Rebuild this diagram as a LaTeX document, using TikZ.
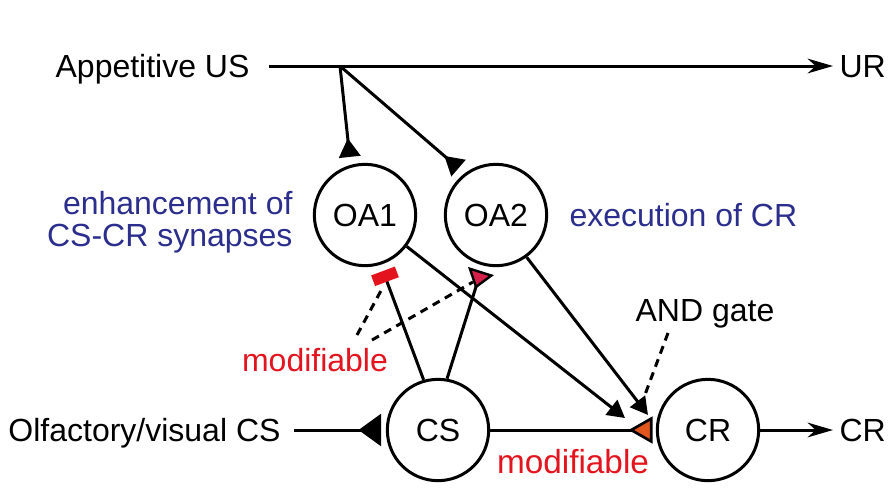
\documentclass[tikz,border=0pt]{standalone}
\usepackage{fontspec}
\setmainfont{Liberation Sans}
\usetikzlibrary{arrows.meta,calc}
\definecolor{cblue}{HTML}{2B2E8C}
\definecolor{cred}{HTML}{E3141E}
\definecolor{crim}{HTML}{D42048}
\definecolor{corange}{HTML}{E0561C}
\begin{document}
\begin{tikzpicture}[x=0.75pt,y=-0.75pt,line width=2.25pt,
  font=\fontsize{24}{28}\selectfont,
  neuron/.style={circle,draw,line width=2.25pt,minimum size=76pt,inner sep=0pt},
  lbl/.style={inner sep=0pt,text height=17pt,text depth=0pt},
  dashln/.style={dash pattern=on 6pt off 4.5pt,line width=2.25pt},
  syn/.style={-{Triangle[reversed,length=14pt,width=16pt]}},
  exc/.style={-{Triangle[length=13pt,width=14pt]}},
  outarr/.style={-{Stealth[length=19pt,width=11pt,inset=6pt]}}]
\useasboundingbox (0,0) rectangle (890,487);

% neurons
\node[neuron] (OA1) at (365,215) {OA1};
\node[neuron] (OA2) at (496,215) {OA2};
\node[neuron] (CS) at (438,430) {CS};
\node[neuron] (CR) at (708,430) {CR};

% labels
\node[lbl,anchor=east] (us) at (251,66) {Appetitive US};
\node[lbl,anchor=west] (ur) at (838,66) {UR};
\node[lbl,anchor=east] (csin) at (282,430) {Olfactory/visual CS};
\node[lbl,anchor=west] (crout) at (838,430) {CR};
\node[inner sep=0pt,text=cblue,align=right,anchor=east,
  font=\fontsize{24}{24}\selectfont] (enh) at (294,222) {enhancement of\\CS-CR synapses};
\node[lbl,text=cblue,anchor=west] (exe) at (568,215) {execution of CR};
\node[lbl,text=cred] (mod1) at (315,360) {modifiable};
\node[lbl,text=cred,font=\fontsize{25}{28}\selectfont] (mod2) at (573,462) {modifiable};
\node[lbl] (and) at (705,310) {AND gate};

% coordinates
\coordinate (b) at (340,66);
\coordinate (s1) at (383,271);
\coordinate (s2) at (481,271);
\coordinate (t1) at ($(CR.center)+(-83,-12)$);
\coordinate (t2) at ($(CR.center)+(-60,-15)$);
\coordinate (d1) at (357,335);
\coordinate (d1e) at (383,287);
\coordinate (d2) at (372,340);
\coordinate (d2e) at (473,282);
\coordinate (d3) at (668,333);
\coordinate (d3e) at (643,400);

% US pathway
\draw[outarr,shorten <=13.5pt,shorten >=3.75pt] (us) -- (ur);
\draw[syn,shorten >=6pt] (b) -- (OA1.106);
\draw[syn,shorten >=6pt] (b) -- (OA2.127);

% CS pathway
\draw[-{Triangle[reversed,length=17pt,width=24pt]},shorten <=9pt,shorten >=3.5pt] (csin) -- (CS);
\draw[-{Triangle[reversed,length=18pt,width=20pt,fill=corange,line width=2pt]},shorten >=2.5pt] (CS) -- (CR);
\draw[outarr,shorten >=3.75pt] (CR) -- (crout);

% OA to CR
\draw[exc] (OA1.323) -- (t1);
\draw[exc] (OA2.306) -- (t2);

% CS to OA
\draw[-{Rectangle[length=8.5pt,width=19pt,color=cred,fill=cred]}] (CS.106) -- (s1);
\draw[-{Triangle[reversed,length=14pt,width=20pt,fill=crim,line width=1.8pt]}] (CS.80) -- (s2);

% dashed pointers
\draw[dashln] (d1) -- (d1e);
\draw[dashln] (d2) -- (d2e);
\draw[dashln] (d3) -- (d3e);
\end{tikzpicture}
\end{document}
